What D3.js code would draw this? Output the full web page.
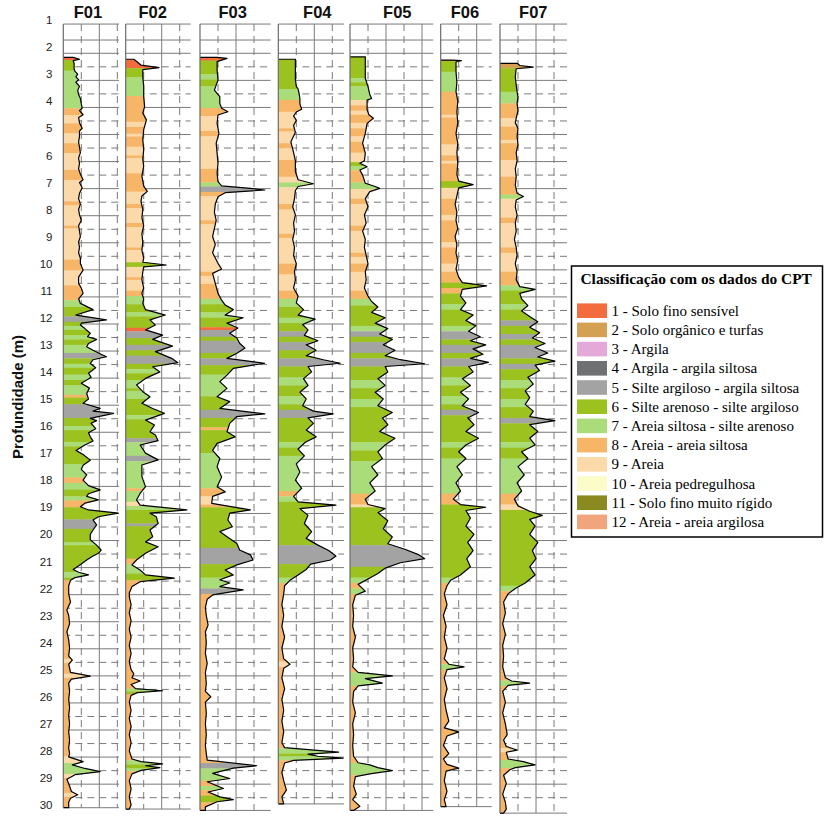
<!DOCTYPE html>
<html><head><meta charset="utf-8">
<script src="https://cdn.jsdelivr.net/npm/d3@7"></script>
<style>body{margin:0;background:#fff}svg{display:block}</style>
</head><body>
<svg id="chart" width="827" height="819"></svg>
<script>
// ---------------- DATA ----------------
const soundings = ["F01","F02","F03","F04","F05","F06","F07"];
const depthTicks = d3.range(1, 31);
const classNames = ["1 - Solo fino sensível","2 - Solo orgânico e turfas","3 - Argila","4 - Argila - argila siltosa","5 - Silte argiloso - argila siltosa","6 - Silte arenoso - silte argiloso","7 - Areia siltosa - silte arenoso","8 - Areia - areia siltosa","9 - Areia","10 - Areia pedregulhosa","11 - Solo fino muito rígido","12 - Areia - areia argilosa"];
const classColors = ["#F36C3D","#D4A052","#E3AAD9","#6E7072","#A3A3A3","#9BC21E","#AADC7A","#F6B567","#FCD9A9","#FCFCC9","#8A8A20","#F2A47D"];
const legendTitle = "Classificação com os dados do CPT";
const yTitle = "Profundidade (m)";

// profiles: [depth (m), value]
const F01_profile = [[2.38,11],[2.45,18],[2.5,11],[2.6,12],[2.8,12],[2.9,13],[3.0,16],[3.1,14],[3.2,17],[3.3,14],[3.45,18],[3.6,16],[3.75,17],[3.9,19],[4.1,20],[4.25,21],[4.35,18],[4.5,22],[4.6,17],[4.8,18],[5.0,21],[5.1,18],[5.3,18],[5.5,17],[5.7,18],[5.9,19],[6.1,17],[6.3,18],[6.5,17],[6.7,19],[6.9,22],[7.0,18],[7.2,21],[7.4,18],[7.6,17],[7.8,19],[8.0,17],[8.2,18],[8.4,20],[8.6,17],[8.8,18],[9.0,19],[9.2,17],[9.4,18],[9.6,17],[9.8,19],[10.0,19],[10.24,22],[10.5,17],[10.73,17],[10.9,20],[11.1,22],[11.3,17],[11.47,19],[11.7,33],[11.9,14],[12.08,48],[12.2,20],[12.27,19],[12.4,24],[12.57,30],[12.7,27],[12.8,37],[12.95,28],[13.07,26],[13.2,33],[13.35,42],[13.44,48],[13.55,33],[13.69,30],[13.85,36],[14.05,28],[14.2,31],[14.42,20],[14.6,29],[14.8,26],[15.0,28],[15.16,22],[15.35,41],[15.45,33],[15.53,56],[15.65,39],[15.72,30],[15.8,37],[15.9,31],[16.1,36],[16.25,28],[16.4,30],[16.55,33],[16.7,24],[16.9,14],[17.05,22],[17.26,30],[17.45,22],[17.6,20],[17.8,26],[18.0,22],[18.2,28],[18.36,41],[18.5,28],[18.6,26],[18.73,39],[18.85,24],[18.98,19],[19.1,28],[19.22,61],[19.35,39],[19.47,33],[19.65,37],[19.84,33],[20.0,30],[20.2,30],[20.4,37],[20.58,42],[20.7,39],[20.8,33],[20.95,26],[21.1,20],[21.3,11],[21.4,17],[21.5,28],[21.6,13],[21.7,8],[21.9,6],[22.2,6],[22.5,8],[22.8,4],[23.0,6],[23.3,7],[23.6,4],[23.9,6],[24.2,7],[24.5,6],[24.65,10],[24.8,6],[25.1,8],[25.24,30],[25.35,9],[25.5,6],[25.8,7],[26.1,6],[26.4,7],[26.7,6],[27.0,7],[27.3,6],[27.6,7],[27.9,6],[28.1,7],[28.22,6],[28.4,22],[28.52,10],[28.65,24],[28.77,41],[28.88,13],[29.05,4],[29.3,7],[29.5,9],[29.62,16],[29.75,8],[29.9,6],[30.1,6]];
const F02_profile = [[2.45,9],[2.55,13],[2.67,17],[2.76,37],[2.83,19],[3.1,19],[3.46,20],[3.83,20],[4.2,21],[4.44,19],[4.69,23],[5.05,20],[5.42,19],[5.79,20],[6.16,19],[6.4,20],[6.77,18],[7.14,20],[7.33,24],[7.5,18],[7.7,17],[8.0,19],[8.3,18],[8.6,20],[8.9,18],[9.2,19],[9.5,18],[9.8,20],[9.95,19],[10.05,45],[10.12,20],[10.3,19],[10.6,18],[10.9,20],[11.1,18],[11.3,20],[11.47,19],[11.7,22],[11.9,44],[12.08,27],[12.27,33],[12.45,22],[12.64,41],[12.8,30],[13.05,52],[13.25,33],[13.5,51],[13.66,58],[13.81,30],[14.0,38],[14.24,22],[14.48,12],[14.73,19],[14.92,27],[15.16,18],[15.35,30],[15.53,43],[15.78,22],[15.96,32],[16.21,27],[16.33,33],[16.54,36],[16.7,16],[17.0,22],[17.25,36],[17.44,18],[17.87,18],[18.24,22],[18.49,16],[18.73,12],[18.92,16],[19.1,68],[19.22,27],[19.35,34],[19.6,36],[19.84,27],[20.09,30],[20.28,22],[20.46,36],[20.7,22],[20.95,12],[21.13,7],[21.32,16],[21.5,22],[21.62,54],[21.75,16],[21.93,7],[22.17,4],[22.3,4],[22.6,6],[22.9,4],[23.2,6],[23.5,4],[23.8,6],[24.1,4],[24.4,6],[24.7,4],[25.0,6],[25.15,9],[25.3,7],[25.42,16],[25.55,6],[25.7,11],[25.78,41],[25.85,13],[25.95,6],[26.2,4],[26.5,6],[26.8,4],[27.1,6],[27.4,4],[27.7,6],[28.0,4],[28.3,7],[28.4,17],[28.48,41],[28.55,22],[28.62,38],[28.72,17],[28.85,7],[29.1,4],[29.4,6],[29.7,4],[30.0,6],[30.15,4]];
const F03_profile = [[2.38,19],[2.42,30],[2.54,19],[2.85,19],[3.22,20],[3.59,16],[3.83,22],[4.08,22],[4.26,24],[4.39,31],[4.51,20],[4.82,19],[5.19,21],[5.55,18],[5.92,19],[6.29,20],[6.66,19],[6.97,20],[7.13,24],[7.22,56],[7.28,72],[7.38,28],[7.53,20],[7.8,17],[8.1,16],[8.4,18],[8.7,16],[9.0,14],[9.3,17],[9.6,14],[9.99,20],[10.2,24],[10.36,14],[10.73,17],[11.1,20],[11.35,24],[11.53,28],[11.7,37],[11.9,28],[12.0,48],[12.2,30],[12.38,42],[12.57,33],[12.75,41],[12.94,44],[13.12,50],[13.31,41],[13.5,30],[13.68,72],[13.87,37],[14.12,30],[14.36,22],[14.61,30],[14.92,19],[15.1,33],[15.35,22],[15.55,72],[15.65,41],[15.9,33],[16.21,30],[16.4,39],[16.64,19],[16.9,14],[17.2,22],[17.5,19],[17.88,24],[18.24,19],[18.43,28],[18.6,14],[18.86,13],[19.1,56],[19.22,33],[19.47,31],[19.72,36],[19.9,22],[20.09,30],[20.34,41],[20.58,44],[20.76,56],[20.95,59],[21.13,41],[21.32,28],[21.5,37],[21.68,22],[21.8,33],[21.93,22],[22.05,48],[22.24,14],[22.4,8],[22.7,6],[23.0,7],[23.35,9],[23.6,6],[24.0,7],[24.4,6],[24.77,8],[25.1,6],[25.5,7],[25.8,6],[26.0,12],[26.2,6],[26.6,7],[27.0,6],[27.4,7],[27.8,6],[28.1,7],[28.34,8],[28.55,63],[28.64,37],[28.83,14],[29.02,33],[29.14,8],[29.39,26],[29.52,9],[29.7,22],[29.8,37],[29.88,19],[30.07,6],[30.2,6]];
const F04_profile = [[2.45,19],[2.8,19],[3.2,19],[3.45,20],[3.55,22],[3.7,23],[3.9,24],[4.1,24],[4.3,26],[4.4,20],[4.55,17],[4.7,20],[4.9,17],[5.15,19],[5.5,14],[5.9,17],[6.2,19],[6.6,19],[6.9,22],[7.05,39],[7.15,22],[7.3,19],[7.6,18],[7.9,16],[8.2,19],[8.5,17],[8.8,18],[9.1,16],[9.4,18],[9.7,17],[10.0,20],[10.3,18],[10.6,19],[10.9,17],[11.2,22],[11.45,20],[11.7,28],[11.9,22],[12.05,41],[12.25,27],[12.45,33],[12.65,29],[12.85,44],[13.0,31],[13.2,42],[13.4,31],[13.55,50],[13.68,69],[13.8,33],[14.0,37],[14.25,28],[14.5,33],[14.75,24],[15.0,31],[15.25,27],[15.45,39],[15.55,61],[15.7,33],[15.9,39],[16.15,31],[16.4,42],[16.6,30],[16.85,22],[17.1,29],[17.4,20],[17.7,24],[18.0,19],[18.3,26],[18.6,17],[18.8,22],[18.92,64],[19.05,24],[19.3,33],[19.6,29],[19.9,37],[20.15,31],[20.4,44],[20.6,56],[20.8,64],[20.95,58],[21.1,36],[21.3,31],[21.5,22],[21.7,13],[21.9,7],[22.2,6],[22.6,4],[23.0,6],[23.4,4],[23.8,7],[24.2,4],[24.6,6],[24.8,13],[24.95,6],[25.3,4],[25.7,7],[26.1,4],[26.5,6],[26.9,4],[27.3,6],[27.7,4],[27.88,7],[28.0,50],[28.05,67],[28.12,33],[28.2,44],[28.27,72],[28.35,17],[28.45,7],[28.8,4],[29.1,6],[29.45,9],[29.7,4],[29.96,6]];
const F05_profile = [[2.36,17],[2.7,17],[3.15,17],[3.46,20],[3.75,22],[3.9,24],[3.96,19],[4.32,19],[4.5,21],[4.63,26],[4.82,19],[5.19,17],[5.55,14],[5.92,17],[6.2,16],[6.29,11],[6.42,19],[6.54,11],[6.73,14],[7.03,17],[7.15,28],[7.22,33],[7.34,22],[7.6,17],[7.9,20],[8.2,16],[8.5,18],[8.8,14],[9.1,17],[9.4,16],[9.7,18],[10.0,20],[10.3,17],[10.6,18],[10.9,16],[11.2,20],[11.4,24],[11.6,31],[11.8,24],[12.0,39],[12.2,28],[12.4,42],[12.6,33],[12.8,47],[13.0,37],[13.2,50],[13.4,39],[13.55,56],[13.7,83],[13.8,39],[14.0,42],[14.25,31],[14.5,39],[14.75,28],[15.0,37],[15.25,31],[15.5,47],[15.7,36],[15.95,42],[16.2,33],[16.45,50],[16.7,39],[16.95,31],[17.2,36],[17.5,24],[17.8,31],[18.1,22],[18.4,28],[18.7,17],[18.9,20],[19.05,39],[19.2,31],[19.5,42],[19.8,37],[20.1,47],[20.35,42],[20.55,61],[20.75,76],[20.9,83],[21.05,56],[21.25,39],[21.45,31],[21.65,20],[21.85,9],[22.1,17],[22.25,6],[22.6,3],[23.0,4],[23.4,3],[23.8,6],[24.2,3],[24.6,4],[24.9,3],[25.1,9],[25.23,47],[25.33,17],[25.5,36],[25.6,9],[25.8,4],[26.2,3],[26.6,6],[27.0,3],[27.4,4],[27.8,3],[28.2,4],[28.44,9],[28.52,22],[28.62,31],[28.73,47],[28.85,22],[28.95,6],[29.3,4],[29.6,7],[29.8,3],[30.05,11],[30.2,4]];
const F06_profile = [[2.48,13],[2.5,23],[2.55,17],[2.9,17],[3.3,18],[3.65,17],[4.0,19],[4.4,18],[4.8,19],[5.2,17],[5.55,19],[5.9,18],[6.3,19],[6.7,18],[6.95,20],[7.08,36],[7.2,20],[7.5,18],[7.8,16],[8.1,18],[8.4,17],[8.7,19],[9.0,16],[9.3,18],[9.6,17],[9.9,19],[10.2,17],[10.5,20],[10.7,24],[10.82,51],[10.95,24],[11.2,22],[11.45,28],[11.7,22],[11.9,36],[12.1,28],[12.3,39],[12.5,31],[12.7,44],[12.85,33],[13.0,50],[13.15,36],[13.35,47],[13.5,33],[13.65,53],[13.8,31],[14.0,36],[14.25,24],[14.5,33],[14.75,22],[15.0,31],[15.25,24],[15.5,42],[15.7,30],[15.95,37],[16.2,28],[16.45,42],[16.7,28],[16.95,20],[17.2,28],[17.5,18],[17.8,24],[18.1,17],[18.4,22],[18.7,14],[18.9,22],[19.0,50],[19.12,28],[19.4,33],[19.7,28],[20.0,37],[20.3,30],[20.6,36],[20.9,29],[21.2,33],[21.5,22],[21.7,11],[21.9,7],[22.2,4],[22.6,7],[23.0,3],[23.4,6],[23.8,4],[24.2,7],[24.6,4],[24.8,9],[24.9,26],[25.0,7],[25.3,4],[25.7,7],[26.1,4],[26.5,6],[26.9,9],[27.15,4],[27.3,20],[27.45,7],[27.8,3],[28.1,9],[28.3,3],[28.5,7],[28.64,20],[28.75,6],[29.1,4],[29.5,7],[29.8,4],[30.06,6]];
const F07_profile = [[2.6,19],[2.68,22],[2.74,37],[2.8,18],[3.1,17],[3.4,18],[3.65,19],[3.85,20],[4.08,19],[4.35,20],[4.63,18],[4.8,17],[5.0,20],[5.3,19],[5.6,20],[5.9,18],[6.2,19],[6.5,17],[6.8,18],[7.1,17],[7.4,19],[7.52,26],[7.65,18],[7.9,17],[8.2,19],[8.5,17],[8.8,18],[9.1,16],[9.4,18],[9.7,19],[10.0,17],[10.3,19],[10.6,18],[10.85,22],[10.95,39],[11.1,22],[11.3,24],[11.55,31],[11.75,24],[11.95,33],[12.15,42],[12.35,33],[12.55,44],[12.75,36],[12.95,50],[13.1,39],[13.3,53],[13.45,42],[13.6,61],[13.75,39],[13.95,44],[14.2,31],[14.45,37],[14.7,28],[14.95,33],[15.2,28],[15.45,37],[15.65,33],[15.8,61],[15.95,33],[16.2,42],[16.45,33],[16.7,39],[16.95,24],[17.2,31],[17.5,20],[17.8,27],[18.1,19],[18.4,24],[18.7,16],[18.95,20],[19.15,33],[19.3,47],[19.45,33],[19.7,39],[20.0,33],[20.3,42],[20.6,36],[20.9,40],[21.2,33],[21.5,39],[21.8,28],[22.0,17],[22.2,9],[22.5,4],[22.9,6],[23.3,3],[23.7,6],[24.1,3],[24.5,4],[24.9,3],[25.3,6],[25.42,13],[25.5,33],[25.58,9],[25.8,3],[26.2,6],[26.6,3],[27.0,6],[27.4,8],[27.6,4],[27.84,7],[27.97,19],[28.05,7],[28.3,9],[28.4,26],[28.52,39],[28.62,17],[28.7,11],[28.9,4],[29.2,7],[29.6,3],[29.9,6],[30.15,7],[30.3,4]];

// soil layers: [top depth (m), class]
const F01_layers = [[2.38,1],[2.48,6],[2.87,7],[4.26,8],[4.51,9],[4.82,8],[5.19,9],[5.55,8],[5.92,9],[6.54,8],[6.91,9],[7.7,8],[7.85,9],[8.6,8],[8.7,9],[9.85,8],[10.25,9],[10.8,8],[11.35,7],[11.6,6],[11.95,5],[12.15,6],[12.3,7],[12.45,6],[12.65,7],[12.8,6],[13.0,7],[13.3,5],[13.5,6],[13.7,7],[13.85,6],[14.1,7],[14.3,6],[14.5,7],[14.85,8],[14.95,6],[15.2,5],[15.7,6],[16.0,7],[16.15,6],[16.6,7],[16.75,6],[17.4,7],[17.9,8],[18.1,7],[18.35,6],[18.6,7],[18.75,8],[19.0,6],[19.45,5],[19.8,6],[20.3,7],[20.4,6],[21.4,7],[21.6,6],[21.7,8],[24.6,9],[24.75,8],[25.15,9],[25.3,8],[28.2,9],[28.45,7],[28.85,9],[29.0,8],[29.55,9],[29.7,8]];
const F02_layers = [[2.45,1],[2.78,6],[3.12,7],[3.81,8],[4.76,9],[4.95,8],[5.2,9],[5.3,8],[5.68,9],[6.0,8],[6.1,9],[6.66,8],[7.34,9],[7.8,8],[7.95,9],[8.5,8],[8.65,9],[9.4,8],[9.5,9],[9.95,6],[10.12,9],[10.5,8],[10.6,9],[11.0,8],[11.2,7],[11.5,6],[11.8,7],[11.95,6],[12.37,1],[12.5,5],[12.75,6],[13.0,5],[13.2,6],[13.4,5],[13.7,6],[13.9,7],[14.05,6],[14.3,7],[14.6,6],[14.7,7],[15.0,6],[15.6,7],[15.75,6],[16.45,5],[16.6,7],[17.1,5],[17.3,7],[18.3,8],[18.4,7],[18.8,9],[18.95,7],[19.1,6],[19.6,5],[19.7,6],[20.9,8],[21.1,7],[21.45,6],[21.7,8],[25.7,7],[25.8,6],[25.9,8],[28.35,7],[28.5,6],[28.65,7],[28.75,8]];
const F03_layers = [[2.38,1],[2.5,6],[3.0,7],[3.2,6],[3.45,7],[4.25,8],[4.55,9],[5.1,8],[5.3,9],[6.5,8],[7.0,7],[7.15,5],[7.35,8],[7.5,9],[8.4,8],[8.55,9],[10.3,8],[10.45,9],[10.75,8],[11.3,7],[11.5,6],[11.8,7],[12.0,6],[12.35,1],[12.45,5],[12.7,6],[12.85,5],[13.3,6],[13.5,5],[13.75,6],[14.1,7],[14.9,6],[15.4,5],[15.7,6],[16.05,8],[16.15,6],[17.0,7],[18.3,8],[18.6,9],[18.9,8],[19.0,6],[20.5,5],[21.1,6],[21.6,7],[22.0,5],[22.2,8],[28.45,5],[28.65,7],[29.1,8],[29.3,7],[29.45,8],[29.65,6],[29.9,8]];
const F04_layers = [[2.45,6],[3.55,7],[3.95,8],[4.39,9],[5.0,8],[5.12,9],[5.55,8],[5.74,9],[6.17,8],[6.79,9],[7.0,7],[7.18,9],[7.8,8],[8.0,9],[8.9,8],[9.05,9],[10.0,8],[10.4,9],[11.0,8],[11.3,7],[11.6,6],[12.0,7],[12.2,6],[12.5,5],[12.7,6],[12.9,5],[13.2,6],[13.5,5],[13.8,6],[14.2,7],[14.5,6],[14.9,7],[15.2,6],[15.4,5],[15.7,6],[16.6,7],[16.8,6],[17.1,7],[18.4,8],[18.6,7],[18.8,6],[20.4,5],[21.1,6],[21.6,7],[21.8,8],[24.7,9],[24.9,8],[27.9,7],[28.1,6],[28.2,7],[28.35,8]];
const F05_layers = [[2.36,6],[3.15,7],[3.3,6],[3.45,7],[3.96,9],[4.15,8],[4.35,9],[4.5,8],[4.8,9],[5.0,8],[5.3,9],[5.5,8],[5.9,9],[6.25,6],[6.4,7],[6.55,8],[7.0,7],[7.25,9],[7.6,8],[7.8,9],[8.6,8],[8.8,9],[9.6,8],[9.75,9],[10.0,8],[10.3,9],[11.0,8],[11.3,7],[11.55,6],[12.3,7],[12.5,5],[12.7,6],[12.9,5],[13.3,6],[13.5,5],[13.8,6],[14.3,7],[14.6,6],[15.0,7],[15.3,6],[16.6,7],[16.9,6],[17.3,7],[18.5,8],[18.9,9],[19.0,6],[20.4,5],[21.2,6],[21.6,7],[21.8,8],[22.0,7],[22.2,8],[25.1,7],[25.6,8],[28.44,7],[28.9,8]];
const F06_layers = [[2.48,1],[2.52,6],[2.91,7],[3.65,8],[4.5,9],[4.6,8],[5.6,9],[6.0,8],[6.2,9],[6.3,8],[6.95,6],[7.2,9],[7.6,8],[8.2,9],[8.4,8],[9.2,9],[9.4,8],[10.0,9],[10.3,8],[10.7,6],[10.9,8],[11.1,6],[11.5,7],[11.7,6],[12.3,7],[12.5,5],[12.8,6],[13.0,5],[13.3,6],[13.5,5],[13.8,6],[14.2,7],[14.5,6],[14.9,7],[15.2,6],[15.4,5],[15.6,6],[16.6,7],[16.8,6],[17.2,7],[18.5,8],[18.9,6],[21.6,7],[21.8,8],[24.8,7],[25.0,8]];
const F07_layers = [[2.6,2],[2.78,6],[3.65,7],[4.08,8],[4.63,9],[4.94,8],[5.43,9],[5.55,8],[6.17,9],[6.79,8],[7.45,7],[7.6,9],[8.3,8],[8.5,9],[9.4,8],[9.6,9],[10.3,8],[10.8,7],[11.0,6],[11.5,7],[11.7,6],[12.1,5],[12.3,6],[12.6,5],[12.8,6],[13.0,5],[13.5,6],[13.7,5],[13.9,6],[14.3,7],[14.6,6],[15.0,7],[15.3,6],[15.7,5],[15.9,6],[16.6,7],[16.8,6],[17.2,7],[18.5,8],[18.9,9],[19.1,6],[21.9,7],[22.1,8],[25.4,7],[25.6,8],[27.9,9],[28.05,8],[28.33,7],[28.64,8]];

const profiles = [F01_profile,F02_profile,F03_profile,F04_profile,F05_profile,F06_profile,F07_profile];
const layers = [F01_layers,F02_layers,F03_layers,F04_layers,F05_layers,F06_layers,F07_layers];

// ---------------- LAYOUT ----------------
const panelLeft  = [63.3,125.7,200,278.3,350,440.7,500];
const panelRight = [119,190.7,270.7,344,433.3,491.7,567];
const titleX     = [88,152.7,232.7,317.3,397.3,465,533.3];
const pxPerUnit = 0.9;         // 20 units per grid division (18 px)
const gridStep = 20;
const panelTopDepth = 1.15;
const solidDepths = [1.74].concat(d3.range(2,30).map(k => k + 0.23));
const dashDepths = d3.range(2,30).map(k => k + 0.73);

const svg = d3.select("#chart");
const y = d3.scaleLinear().domain([1,30]).range([20,805]);
const gridColor = "#7a7a7a";

// y axis labels
const yAxis = d3.axisLeft(y).tickValues(depthTicks).tickSize(0).tickPadding(0).tickFormat(d3.format("d"));
const ga = svg.append("g").attr("transform","translate(52.5,0)").call(yAxis);
ga.select(".domain").remove();
ga.selectAll("text").attr("font-family","Arial, 'Liberation Sans', sans-serif").attr("font-size",11.5).attr("fill","#222");

svg.append("text").attr("transform","translate(23,397) rotate(-90)")
  .attr("text-anchor","middle").attr("font-family","Arial, 'Liberation Sans', sans-serif")
  .attr("font-weight","bold").attr("font-size",15).attr("fill","#111").text(yTitle);

const defs = svg.append("defs");

soundings.forEach((name, i) => {
  const prof = profiles[i];
  const lay = layers[i];
  const topD = prof[0][0];
  const botD = prof[prof.length-1][0];
  const xMax = (panelRight[i]-panelLeft[i]) / pxPerUnit;
  const x = d3.scaleLinear().domain([0,xMax]).range([panelLeft[i], panelRight[i]]);
  const g = svg.append("g");

  g.append("text").attr("x", titleX[i]).attr("y", 18.3).attr("text-anchor","middle")
    .attr("font-family","Arial, 'Liberation Sans', sans-serif").attr("font-weight","bold")
    .attr("font-size",16.5).attr("fill","#111").text(name);

  const yTop = y(panelTopDepth), yBot = y(botD);
  g.append("line").attr("x1",x(0)).attr("x2",x(xMax)).attr("y1",yTop).attr("y2",yTop).attr("stroke",gridColor);
  g.append("line").attr("x1",x(0)).attr("x2",x(xMax)).attr("y1",yBot).attr("y2",yBot).attr("stroke",gridColor);
  g.selectAll(".hs").data(solidDepths.filter(d => d < botD)).join("line")
    .attr("x1",x(0)).attr("x2",x(xMax)).attr("y1",d=>y(d)).attr("y2",d=>y(d)).attr("stroke",gridColor);
  g.selectAll(".hd").data(dashDepths.filter(d => d < botD)).join("line")
    .attr("x1",x(0)).attr("x2",x(xMax)).attr("y1",d=>y(d)).attr("y2",d=>y(d)).attr("stroke",gridColor)
    .attr("stroke-dasharray","7,5");
  const vt = d3.range(gridStep, xMax, gridStep);
  g.selectAll(".v").data(vt).join("line")
    .attr("x1",d=>x(d)).attr("x2",d=>x(d)).attr("y1",yTop).attr("y2",yBot).attr("stroke",gridColor)
    .attr("stroke-dasharray",d => (d/gridStep)%2===1 ? "7,5" : null);

  const area = d3.area().x0(x(0)).x1(d=>x(d[1])).y(d=>y(d[0]));
  defs.append("clipPath").attr("id","clip"+i).append("path").attr("d", area(prof));

  const fillG = g.append("g").attr("clip-path","url(#clip"+i+")");
  fillG.selectAll("rect").data(lay).join("rect")
    .attr("x", x(0)).attr("width", x(xMax + 40) - x(0))
    .attr("y", d => y(d[0]))
    .attr("height", (d,j) => y(j < lay.length-1 ? lay[j+1][0] : botD) - y(d[0]) + 0.3)
    .attr("fill", d => classColors[d[1]-1]);

  const line = d3.line().x(d=>x(d[1])).y(d=>y(d[0]));
  const outline = [[topD,0]].concat(prof, [[botD,0]]);
  g.append("path").attr("d", line(outline)).attr("fill","none").attr("stroke","#000")
    .attr("stroke-width",1.2).attr("stroke-linejoin","round");

  g.append("line").attr("x1",x(0)).attr("x2",x(0)).attr("y1",yTop).attr("y2",yBot).attr("stroke","#6a6a6a").attr("stroke-width",1.2);
});

// ---------------- LEGEND ----------------
const lg = svg.append("g");
lg.append("rect").attr("x",571.5).attr("y",266).attr("width",251).attr("height",271)
  .attr("fill","#fff").attr("stroke","#000").attr("stroke-width",1.5);
lg.append("text").attr("x",580.5).attr("y",283.5).attr("font-family","'Liberation Serif', 'Times New Roman', serif")
  .attr("font-weight","bold").attr("font-size",15.4).attr("fill","#000").text(legendTitle);
const items = lg.selectAll(".it").data(classNames).join("g")
  .attr("transform",(d,i)=>`translate(0,${310.7 + i*19.2})`);
items.append("rect").attr("x",577).attr("y",-7.3).attr("width",30).attr("height",14.6)
  .attr("fill",(d,i)=>classColors[i]);
items.append("text").attr("x",611.5).attr("y",5).attr("font-family","'Liberation Serif', 'Times New Roman', serif")
  .attr("font-size",15).attr("fill","#000").text(d=>d);
</script>
</body></html>
